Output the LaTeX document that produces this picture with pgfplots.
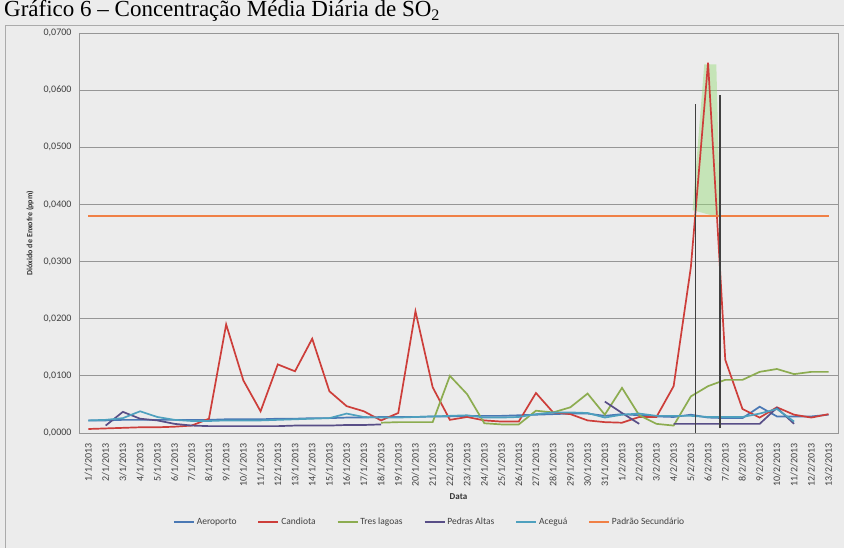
\documentclass[border=0pt]{standalone}
\usepackage{fontspec}
\setmainfont{Carlito}
\newfontfamily\titlefont{Liberation Serif}
\usepackage{pgfplots}
\usepackage{pgfplotstable}
\pgfplotsset{compat=1.18}

\definecolor{bg}{RGB}{236,236,236}
\definecolor{gridc}{RGB}{150,150,150}
\definecolor{aero}{RGB}{74,120,180}
\definecolor{cand}{RGB}{205,62,58}
\definecolor{tres}{RGB}{140,172,80}
\definecolor{pedras}{RGB}{88,78,135}
\definecolor{acegua}{RGB}{78,160,190}
\definecolor{padrao}{RGB}{240,128,70}
\definecolor{hilite}{RGB}{150,220,120}

\pgfplotstableread{
i aero cand tres pedras acegua padrao
0 0.0022 0.0007 nan nan 0.0022 0.038
1 0.0022 0.0008 nan 0.0013 0.0023 0.038
2 0.0023 0.0009 nan 0.0037 0.0026 0.038
3 0.0023 0.0010 nan 0.0025 0.0038 0.038
4 0.0023 0.0010 nan 0.0022 0.0028 0.038
5 0.0023 0.0011 nan 0.0016 0.0023 0.038
6 0.0023 0.0013 nan 0.0013 0.0021 0.038
7 0.0023 0.0025 nan 0.0012 0.0021 0.038
8 0.0024 0.0190 nan 0.0012 0.0022 0.038
9 0.0024 0.0092 nan 0.0012 0.0022 0.038
10 0.0024 0.0038 nan 0.0012 0.0022 0.038
11 0.0025 0.0120 nan 0.0012 0.0023 0.038
12 0.0025 0.0108 nan 0.0013 0.0024 0.038
13 0.0026 0.0165 nan 0.0013 0.0025 0.038
14 0.0026 0.0073 nan 0.0013 0.0026 0.038
15 0.0027 0.0047 nan 0.0014 0.0034 0.038
16 0.0027 0.0038 nan 0.0014 0.0028 0.038
17 0.0028 0.0022 0.0018 0.0015 0.0027 0.038
18 0.0028 0.0035 0.0019 nan 0.0027 0.038
19 0.0028 0.0213 0.0019 nan 0.0028 0.038
20 0.0029 0.0080 0.0019 nan 0.0029 0.038
21 0.0029 0.0023 0.0100 nan 0.0030 0.038
22 0.0030 0.0028 0.0068 nan 0.0031 0.038
23 0.0030 0.0022 0.0017 nan 0.0027 0.038
24 0.0030 0.0020 0.0015 nan 0.0027 0.038
25 0.0031 0.0020 0.0015 nan 0.0028 0.038
26 0.0032 0.0070 0.0039 nan 0.0033 0.038
27 0.0033 0.0036 0.0036 nan 0.0036 0.038
28 0.0034 0.0033 0.0045 nan 0.0036 0.038
29 0.0034 0.0022 0.0069 nan 0.0035 0.038
30 0.0030 0.0019 0.0032 0.0055 0.0027 0.038
31 0.0033 0.0018 0.0079 0.0035 0.0032 0.038
32 0.0031 0.0028 0.0031 0.0016 0.0034 0.038
33 0.0029 0.0028 0.0016 nan 0.0030 0.038
34 0.0028 0.0082 0.0013 0.0016 0.0030 0.038
35 0.0032 0.0290 0.0064 0.0016 0.0030 0.038
36 0.0027 0.0648 0.0082 0.0016 0.0028 0.038
37 0.0026 0.0128 0.0093 0.0016 0.0028 0.038
38 0.0026 0.0042 0.0093 0.0016 0.0028 0.038
39 0.0046 0.0027 0.0107 0.0016 0.0034 0.038
40 0.0029 0.0045 0.0112 0.0044 0.0042 0.038
41 0.0029 0.0032 0.0103 0.0016 0.0020 0.038
42 0.0029 0.0027 0.0107 nan nan 0.038
43 0.0032 0.0033 0.0107 nan nan 0.038
}\datatable

\begin{document}
\begin{tikzpicture}
\fill[bg] (0,0) rectangle (844pt,548pt);
\draw[gridc!80, line width=0.8pt] (5pt,0) -- (5pt,523pt) -- (844pt,523pt);
\node[anchor=base west, inner sep=0pt, font=\titlefont\fontsize{23}{27}\selectfont] at (4pt,531pt) {Gráfico 6 – Concentração Média Diária de SO\textsubscript{2}};
\begin{axis}[
  at={(79pt,115pt)}, anchor=south west,
  width=759pt, height=400pt, scale only axis,
  xmin=-0.55, xmax=43.55, ymin=0, ymax=0.07,
  axis line style={draw=gridc, line width=0.8pt},
  ytick={0,0.01,0.02,0.03,0.04,0.05,0.06,0.07},
  ymajorgrids, major grid style={draw=gridc, line width=0.8pt},
  major tick length=0pt,
  scaled y ticks=false,
  yticklabel style={/pgf/number format/.cd, fixed, fixed zerofill, precision=4, use comma, assume math mode=true, /tikz/.cd, font=\fontsize{10}{12}\selectfont, text=black!75, xshift=-4pt},
  xtick={0,...,43},
  xticklabels={1/1/2013,2/1/2013,3/1/2013,4/1/2013,5/1/2013,6/1/2013,7/1/2013,8/1/2013,9/1/2013,10/1/2013,11/1/2013,12/1/2013,13/1/2013,14/1/2013,15/1/2013,16/1/2013,17/1/2013,18/1/2013,19/1/2013,20/1/2013,21/1/2013,22/1/2013,23/1/2013,24/1/2013,25/1/2013,26/1/2013,27/1/2013,28/1/2013,29/1/2013,30/1/2013,31/1/2013,1/2/2013,2/2/2013,3/2/2013,4/2/2013,5/2/2013,6/2/2013,7/2/2013,8/2/2013,9/2/2013,10/2/2013,11/2/2013,12/2/2013,13/2/2013},
  xticklabel style={rotate=90, anchor=east, font=\fontsize{10}{12}\selectfont, text=black!75},
  xticklabel shift=7pt,
  unbounded coords=jump,
  xlabel={\bfseries Data},
  xlabel style={at={(axis description cs:0.5,-0.16)}, anchor=center, font=\fontsize{9}{11}\selectfont, text=black!80},
  ylabel={\bfseries Dióxido de Enxofre (ppm)},
  ylabel style={at={(axis description cs:-0.0646,0.5)}, anchor=center, font=\fontsize{8}{9}\selectfont, text=black!80},
  legend style={at={(axis description cs:0.462,-0.2225)}, anchor=center, draw=none, fill=none, legend columns=6, font=\fontsize{9.5}{11}\selectfont, text=black!75, /tikz/every even column/.append style={column sep=19pt}},
  legend image code/.code={\draw[#1] (0pt,0pt) -- (20pt,0pt);},
  every axis plot/.append style={line width=1.7pt},
]
\addplot[fill=hilite, fill opacity=0.45, draw=none, forget plot] coordinates {(35.1,0.039) (35.78,0.0645) (36.48,0.0645) (36.7,0.0377)} -- cycle;
\addplot[aero] table[x=i, y=aero] {\datatable};
\addlegendentry{Aeroporto}
\addplot[cand] table[x=i, y=cand] {\datatable};
\addlegendentry{Candiota}
\addplot[tres] table[x=i, y=tres] {\datatable};
\addlegendentry{Tres lagoas}
\addplot[pedras] table[x=i, y=pedras] {\datatable};
\addlegendentry{Pedras Altas}
\addplot[acegua] table[x=i, y=acegua] {\datatable};
\addlegendentry{Aceguá}
\addplot[padrao] table[x=i, y=padrao] {\datatable};
\addlegendentry{Padrão Secundário}
\addplot[black!75, line width=1.3pt, forget plot] coordinates {(35.25,-0.0006) (35.25,0.0576)};
\addplot[black!75, line width=1.3pt, forget plot] coordinates {(36.7,0.0008) (36.7,0.0592)};
\end{axis}
\pgfresetboundingbox
\path[use as bounding box] (0,0) rectangle (844pt,548pt);
\end{tikzpicture}
\end{document}
